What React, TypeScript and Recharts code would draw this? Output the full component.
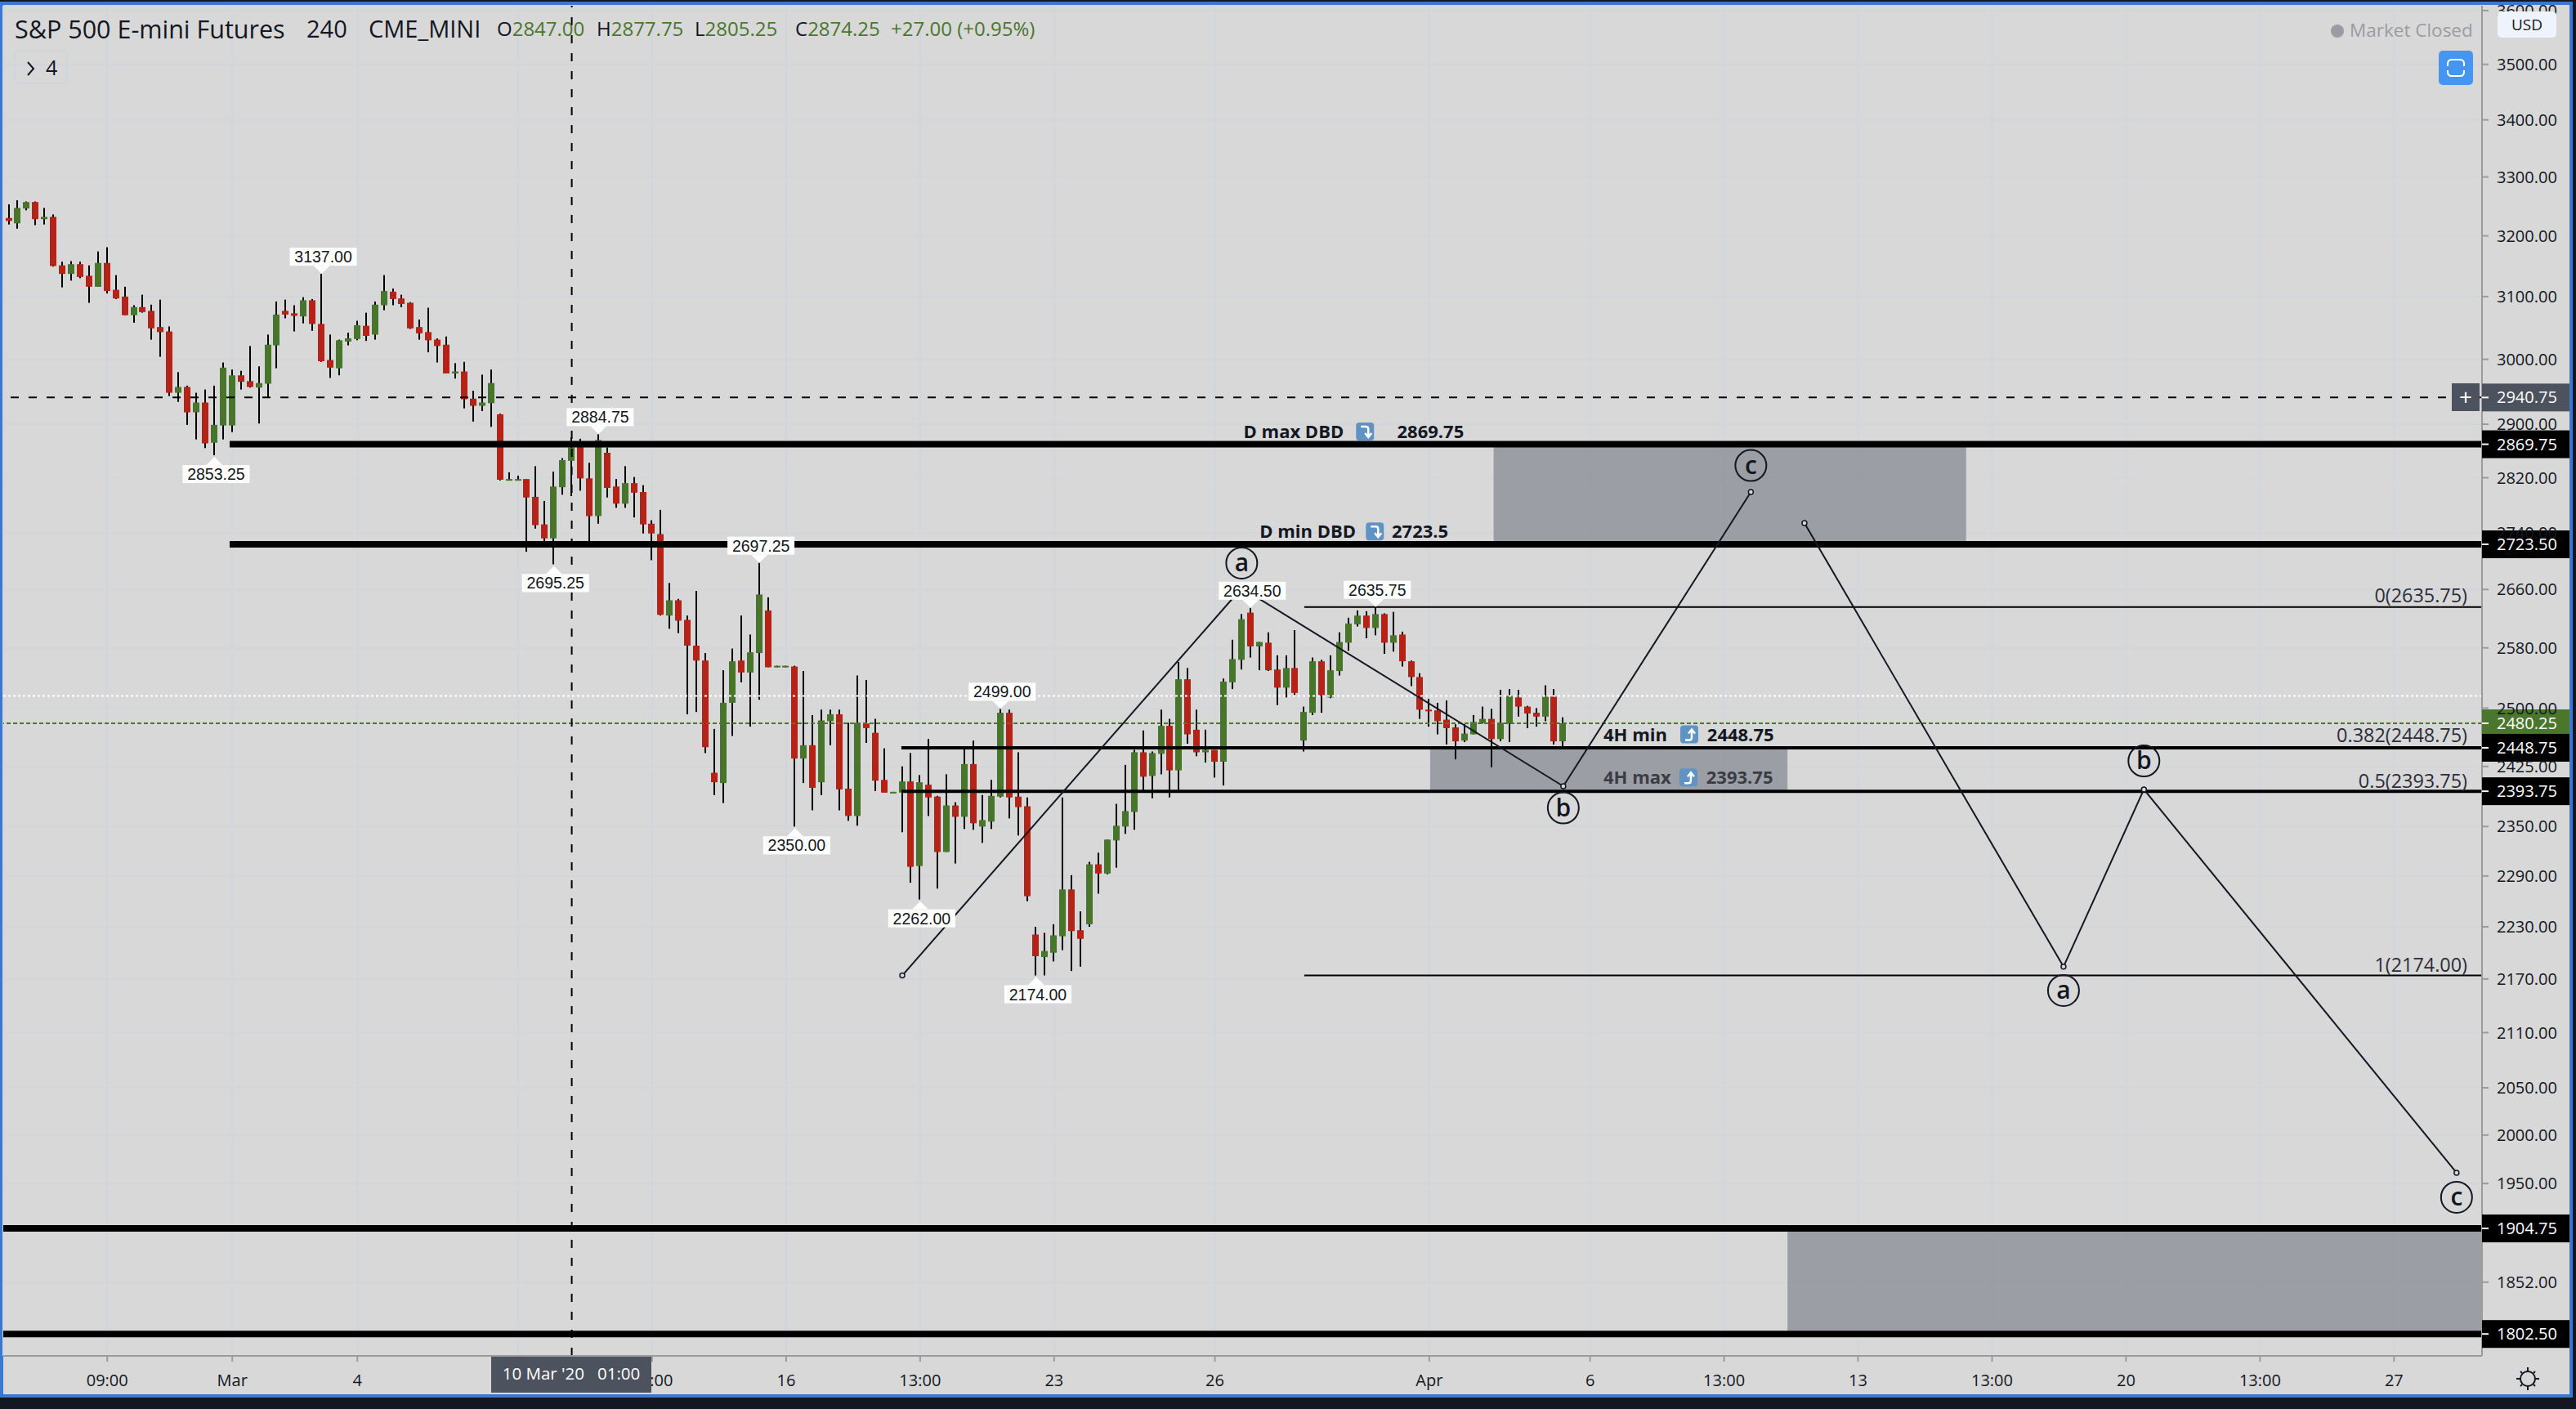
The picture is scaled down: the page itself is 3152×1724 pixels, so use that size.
import {
  ComposedChart, Bar, XAxis, YAxis, CartesianGrid, ReferenceLine, ReferenceArea, ReferenceDot,
} from "recharts";

const opens = [
  3230, 3221, 3246, 3257, 3228, 3232, 3151, 3137, 3153, 3134,
  3116, 3155, 3111, 3100, 3070, 3083, 3077, 3051, 3044, 2948,
  2957, 2918, 2933, 2872, 2898, 2898, 2975, 2966, 2956, 2962,
  3022, 3077, 3073, 3068, 3094, 3056, 2999, 2986, 3028, 3032,
  3053, 3039, 3086, 3108, 3097, 3090, 3051, 3043, 3031, 3023,
  2978, 2981, 2939, 2928, 2932, 2915, 2817, 2817, 2818, 2792,
  2752, 2732, 2806, 2845, 2874, 2819, 2764, 2857, 2807, 2782,
  2812, 2799, 2753, 2738, 2624, 2645, 2618, 2583, 2563, 2417,
  2404, 2507, 2563, 2547, 2573, 2631, 2555, 2555, 2555, 2435,
  2452, 2405, 2483, 2492, 2397, 2363, 2480, 2468, 2408, 2392,
  2392, 2406, 2302, 2402, 2387, 2319, 2376, 2362, 2428, 2350,
  2356, 2387, 2494, 2387, 2375, 2221, 2195, 2200, 2219, 2274,
  2226, 2233, 2304, 2293, 2333, 2350, 2368, 2443, 2413, 2441,
  2477, 2420, 2538, 2472, 2443, 2446, 2431, 2534, 2564, 2628,
  2582, 2587, 2551, 2527, 2553, 2458, 2494, 2562, 2514, 2549,
  2587, 2612, 2624, 2607, 2626, 2587, 2598, 2562, 2541, 2498,
  2497, 2485, 2475, 2458, 2466, 2481, 2486, 2460, 2480, 2514,
  2502, 2494, 2489, 2515, 2457,
];
const highs = [
  3253, 3260, 3258, 3258, 3247, 3236, 3157, 3158, 3157, 3151,
  3174, 3181, 3135, 3116, 3086, 3103, 3087, 3095, 3052, 2980,
  2959, 2948, 2953, 2959, 2995, 2984, 2982, 3021, 2989, 3039,
  3092, 3095, 3086, 3099, 3096, 3137, 3039, 3031, 3042, 3061,
  3074, 3092, 3135, 3113, 3103, 3091, 3063, 3082, 3033, 3036,
  2994, 2996, 2951, 2976, 2984, 2916, 2828, 2823, 2818, 2837,
  2786, 2829, 2849, 2880, 2878, 2842, 2884.75, 2865, 2818, 2837,
  2821, 2809, 2758, 2773, 2669, 2647, 2624, 2658, 2573, 2473,
  2550, 2579, 2624, 2598, 2697.25, 2649, 2556, 2556, 2556, 2549,
  2491, 2498, 2498, 2498, 2481, 2543, 2537, 2486, 2448, 2393,
  2425, 2442, 2414, 2460, 2388, 2415, 2380, 2448, 2458, 2389,
  2408, 2499, 2498, 2443, 2386, 2230, 2223, 2233, 2386, 2291,
  2248, 2307, 2318, 2334, 2378, 2427, 2446, 2471, 2444, 2498,
  2486, 2561, 2553, 2498, 2472, 2446, 2539, 2591, 2626, 2634.5,
  2588, 2601, 2570, 2570, 2604, 2502, 2567, 2564, 2570, 2601,
  2621, 2631, 2630, 2635.75, 2627, 2629, 2602, 2563, 2546, 2512,
  2507, 2510, 2479, 2479, 2491, 2502, 2499, 2524, 2525, 2524,
  2503, 2500, 2530, 2525, 2488,
];
const lows = [
  3219, 3212, 3243, 3218, 3219, 3149, 3115, 3126, 3130, 3090,
  3116, 3105, 3096, 3070, 3058, 3074, 3031, 3004, 2943, 2934,
  2899, 2877, 2864, 2853.25, 2877, 2888, 2953, 2956, 2901, 2941,
  2986, 3065, 3044, 3057, 3045, 2996, 2971, 2975, 3022, 3030,
  3029, 3031, 3078, 3086, 3083, 3048, 3031, 3011, 2995, 2978,
  2970, 2924, 2904, 2920, 2896, 2816, 2817, 2817, 2713, 2746,
  2726, 2695.25, 2795, 2793, 2801, 2727, 2753, 2791, 2776, 2776,
  2762, 2739, 2701, 2624, 2606, 2600, 2492, 2495, 2442, 2389,
  2379, 2464, 2534, 2476, 2511, 2554, 2554, 2554, 2350, 2404,
  2370, 2389, 2452, 2370, 2357, 2351, 2455, 2394, 2392, 2392,
  2343, 2282, 2262, 2363, 2275, 2319, 2305, 2347, 2346, 2330,
  2347, 2386, 2360, 2339, 2260, 2174, 2174, 2190, 2203, 2179,
  2184, 2230, 2269, 2292, 2300, 2341, 2346, 2395, 2385, 2415,
  2386, 2394, 2454, 2438, 2430, 2411, 2401, 2525, 2551, 2567,
  2550, 2549, 2504, 2514, 2517, 2444, 2491, 2494, 2513, 2543,
  2576, 2609, 2593, 2597, 2572, 2575, 2555, 2529, 2486, 2476,
  2466, 2453, 2434, 2456, 2466, 2480, 2424, 2457, 2456, 2489,
  2474, 2476, 2483, 2453, 2448,
];
const closes = [
  3225, 3247, 3257, 3228, 3232, 3150, 3137, 3153, 3132, 3116,
  3155, 3109, 3097, 3070, 3083, 3075, 3049, 3043, 2948, 2957,
  2918, 2933, 2871, 2899, 2987, 2975, 2965, 2957, 2963, 3023,
  3071, 3071, 3069, 3094, 3056, 2997, 2987, 3030, 3033, 3054,
  3037, 3087, 3109, 3096, 3088, 3049, 3041, 3030, 3021, 2978,
  2981, 2938, 2928, 2933, 2963, 2817, 2818, 2818, 2791, 2751,
  2732, 2807, 2846, 2865, 2819, 2764, 2876, 2805, 2782, 2812,
  2798, 2752, 2739, 2625, 2645, 2617, 2583, 2563, 2449.5, 2405,
  2507, 2562, 2547, 2574, 2653, 2554, 2556, 2556, 2435, 2452,
  2398, 2484, 2492, 2396, 2363, 2481, 2474, 2407, 2392, 2393,
  2406, 2301, 2405, 2386, 2319, 2376, 2362, 2428, 2354, 2358,
  2388, 2494, 2386, 2374, 2266, 2196, 2202, 2220, 2274, 2225,
  2216, 2304, 2293, 2334, 2351, 2369, 2443, 2412, 2442, 2477,
  2420, 2538, 2466, 2443, 2446, 2431, 2535, 2565, 2619, 2582,
  2588, 2550, 2527, 2553, 2520, 2495, 2562, 2516, 2550, 2588,
  2613, 2624, 2607, 2626, 2587, 2597, 2562, 2541, 2498, 2497,
  2483, 2474, 2457, 2467, 2482, 2486, 2460, 2481, 2516, 2502,
  2493, 2489, 2515, 2457, 2480.25,
];

const xTicks = [11, 25, 39, 57, 72, 87, 102, 117, 135, 159, 177, 192, 207, 222, 237, 252, 267];
const xTickLabels = ["09:00", "Mar", "4", "9", "13:00", "16", "13:00", "23", "26", "Apr", "6", "13:00", "13", "13:00", "20", "13:00", "27"];
const yTicks = [3600, 3500, 3400, 3300, 3200, 3100, 3000, 2900, 2820, 2740, 2660, 2580, 2500, 2425, 2350, 2290, 2230, 2170, 2110, 2050, 2000, 1950, 1852];

const highLabels = [[35, 3137], [66, 2884.75], [84, 2697.25], [111, 2499], [139, 2634.5], [153, 2635.75]];
const lowLabels = [[23, 2853.25], [61, 2695.25], [88, 2350], [102, 2262], [115, 2174]];
const wavePoints = [[100, 2174], [138, 2662], [174, 2400], [195, 2799]];
const wave2Points = [[201, 2754], [230, 2184], [239, 2396], [274, 1961]];
const waveLetters = [["a", 138, 2697], ["b", 174, 2373], ["c", 195, 2838], ["a", 230, 2157], ["b", 239, 2432], ["c", 274, 1936]];
const zones = [[166.2, 219.1, 2869.75, 2723.5], [159.1, 199.1, 2448.75, 2393.75], [199.1, 276.85, 1904.75, 1802.5]];
const fibLabels = [["0(2635.75)", 2651], ["0.382(2448.75)", 2464], ["0.5(2393.75)", 2406], ["1(2174.00)", 2186]];
const priceTags = [
  [2940.75, "#4c525e"], [2869.75, "#000"], [2723.5, "#000"], [2480.25, "#4a762e"],
  [2448.75, "#000"], [2393.75, "#000"], [1904.75, "#000"], [1802.5, "#000"],
];
const zoneNotes = [
  ["D max DBD", "down", "2869.75", 138.2, 2889, 150.8, 155.4, "#131722"],
  ["D min DBD", "down", "2723.5", 140, 2742, 151.9, 154.8, "#131722"],
  ["4H min", "up", "2448.75", 178.5, 2466, 187.1, 190.1, "#131722"],
  ["4H max", "up", "2393.75", 178.5, 2411, 187, 190, "#3a3d45"],
];

const rows = opens.map((open, i) => ({
  i, open, high: highs[i], low: lows[i], close: closes[i], range: [lows[i], highs[i]],
}));

const GREEN = "#47752c";
const RED = "#b42318";
const GRID = "#d2d5dc";
const AXIS = "#9b9b9b";
const RIGHT_EDGE = 276.85;
const SANS = "'Open Sans', sans-serif";
const ARIAL = "'Liberation Sans', Arial, sans-serif";

// body edges come from the wick rect the scale gave us (log axis, so ratio of logs)
function Candle(props: any) {
  const { x, y, width, height, payload } = props;
  const { open, close, high, low } = payload;
  const span = Math.log(high / low);
  const at = (v: number) => y + (height * Math.log(high / v)) / span;
  const top = at(Math.max(open, close));
  const bottom = at(Math.min(open, close));
  const cx = Math.round(x + width / 2);
  const color = close >= open ? GREEN : RED;
  return (
    <g>
      <rect x={cx - 1} y={y} width={2} height={height} fill="#000" />
      <rect x={cx - 4} y={top} width={8} height={Math.max(bottom - top, 2)} fill={color} />
    </g>
  );
}

function Callout({ cx, cy, text, up }: any) {
  const tipY = up ? cy : cy + 2;
  const dir = up ? -1 : 1;
  const boxY = up ? tipY - 32 : tipY + 10;
  return (
    <g>
      <polygon points={`${cx},${tipY} ${cx - 10},${tipY + dir * 10} ${cx + 10},${tipY + dir * 10}`} fill="#fff" />
      <rect x={cx - 39} y={boxY} width={82} height={22} fill="#fff" />
      <text x={cx + 2} y={boxY + 18} textAnchor="middle" fontFamily={ARIAL} fontSize={19.5} fill="#131722">{text}</text>
    </g>
  );
}

function PriceTag({ cx, cy, color, value }: any) {
  return (
    <g>
      <rect x={cx} y={cy - 17} width={107} height={34} fill={color} />
      <line x1={cx} x2={cx + 8} y1={cy} y2={cy} stroke="#fff" strokeWidth={2} />
      <text x={cx + 18} y={cy + 7} fontFamily={SANS} fontSize={20} fill="#fff">{value.toFixed(2)}</text>
    </g>
  );
}

function WaveLetter({ cx, cy, letter }: any) {
  return (
    <g>
      <circle cx={cx} cy={cy} r={19} fill="none" stroke="#131722" strokeWidth={2} />
      <text x={cx} y={cy + 10} textAnchor="middle" fontFamily={SANS} fontWeight={600} fontSize={30} fill="#131722">{letter}</text>
    </g>
  );
}

function NoteText({ cx, cy, text, color }: any) {
  return <text x={cx} y={cy + 8} fontFamily={SANS} fontWeight={700} fontSize={22} fill={color}>{text}</text>;
}

function NoteIcon({ cx, cy, dir }: any) {
  const arrow = dir === "down"
    ? `M${cx + 6} ${cy - 6} h6 q3 0 3 3 v9 m-4 -4 l4 5 l4 -5`
    : `M${cx + 6} ${cy + 7} h5 q3 0 3 -3 v-9 m-4 4 l4 -5 l4 5`;
  return (
    <g>
      <rect x={cx} y={cy - 11} width={22} height={22} rx={4} fill="#5f93c4" />
      <path d={arrow} fill="none" stroke="#fff" strokeWidth={2.5} />
    </g>
  );
}

function segment(a: number[], b: number[]) {
  return [{ x: a[0], y: a[1] }, { x: b[0], y: b[1] }] as any;
}

const overlay = (style: any) => ({ position: "absolute", ...style });

function Legend() {
  const val = { color: "#4a762e" };
  return (
    <div style={overlay({ left: 18, top: 17, height: 36, fontFamily: SANS, fontSize: 29, lineHeight: "36px", color: "#131722", whiteSpace: "nowrap" })}>
      <span style={overlay({ left: 0, fontSize: 30.5 })}>S&amp;P 500 E-mini Futures</span>
      <span style={overlay({ left: 357 })}>240</span>
      <span style={overlay({ left: 433 })}>CME_MINI</span>
      <span style={overlay({ left: 590, fontSize: 24 })}>O<span style={val}>2847.00</span></span>
      <span style={overlay({ left: 712, fontSize: 24 })}>H<span style={val}>2877.75</span></span>
      <span style={overlay({ left: 832, fontSize: 24 })}>L<span style={val}>2805.25</span></span>
      <span style={overlay({ left: 955, fontSize: 24 })}>C<span style={val}>2874.25</span></span>
      <span style={overlay({ left: 1072, fontSize: 24, ...val })}>+27.00 (+0.95%)</span>
    </div>
  );
}

export default function App() {
  return (
    <div style={{ position: "absolute", left: 0, top: 0, width: 3152, height: 1724, background: "#131722", overflow: "hidden" }}>
      <div style={overlay({ left: 0, top: 2, width: 3148, height: 1708, boxSizing: "border-box", border: "4px solid #3a78d2", background: "#d8d8d8" })} />
      <div style={overlay({ left: 0, top: 0 })}>
        <ComposedChart width={3152} height={1724} data={rows} margin={{ top: 7, right: 8, left: 4, bottom: 17 }}>
          <CartesianGrid stroke={GRID} strokeWidth={2} />
          <XAxis
            dataKey="i" type="number" domain={[-0.64, RIGHT_EDGE]} allowDataOverflow ticks={xTicks} interval={0} height={48}
            tickFormatter={(v) => xTickLabels[xTicks.indexOf(v)]} stroke={AXIS} strokeWidth={2} tickSize={7} tickMargin={16}
            tick={{ fill: "#131722", fontFamily: SANS, fontSize: 20 }}
          />
          <YAxis
            orientation="right" type="number" scale="log" domain={[1782, 3609]} allowDataOverflow ticks={yTicks} interval={0} width={107}
            tickFormatter={(v) => v.toFixed(2)} stroke={AXIS} strokeWidth={2} tickSize={8} tickMargin={10}
            tick={{ fill: "#131722", fontFamily: SANS, fontSize: 20 }}
          />

          {zones.map((z, n) => (
            <ReferenceArea key={n} x1={z[0]} x2={z[1]} y1={z[2]} y2={z[3]} fill="#787b86" fillOpacity={0.63} stroke="none" ifOverflow="visible" />
          ))}

          <Bar dataKey="range" barSize={8} isAnimationActive={false} shape={Candle} />

          <ReferenceLine y={2516} stroke="#fff" strokeWidth={2} strokeDasharray="3 3" />
          <ReferenceLine y={2480.25} stroke="#4a762e" strokeWidth={2} strokeDasharray="5 3" />
          <ReferenceLine y={2940.75} stroke="#000" strokeWidth={2} strokeDasharray="10 12" />
          <ReferenceLine x={63} stroke="#000" strokeWidth={2} strokeDasharray="10 12" />

          <ReferenceLine segment={segment([24.7, 2869.75], [RIGHT_EDGE, 2869.75])} stroke="#000" strokeWidth={8} />
          <ReferenceLine segment={segment([24.7, 2723.5], [RIGHT_EDGE, 2723.5])} stroke="#000" strokeWidth={8} />
          <ReferenceLine segment={segment([99.9, 2448.75], [RIGHT_EDGE, 2448.75])} stroke="#000" strokeWidth={4} />
          <ReferenceLine segment={segment([99.9, 2393.75], [RIGHT_EDGE, 2393.75])} stroke="#000" strokeWidth={4} />
          <ReferenceLine segment={segment([145, 2635.75], [RIGHT_EDGE, 2635.75])} stroke="#000" strokeWidth={2} />
          <ReferenceLine segment={segment([145, 2174], [RIGHT_EDGE, 2174])} stroke="#000" strokeWidth={2} />
          <ReferenceLine y={1904.75} stroke="#000" strokeWidth={8} />
          <ReferenceLine y={1802.5} stroke="#000" strokeWidth={8} />

          {[wavePoints, wave2Points].map((pts) =>
            pts.slice(1).map((p, n) => (
              <ReferenceLine key={`${p[0]}`} segment={segment(pts[n], p)} stroke="#131722" strokeWidth={2} />
            ))
          )}
          {[wavePoints[0], wavePoints[2], wavePoints[3], wave2Points[0], wave2Points[1], wave2Points[2], wave2Points[3]].map((p) => (
            <ReferenceDot key={p[0]} x={p[0]} y={p[1]} r={3} fill="#d8d8d8" stroke="#131722" strokeWidth={1.5} ifOverflow="visible" />
          ))}
          {waveLetters.map((w, n) => (
            <ReferenceDot key={n} x={w[1] as number} y={w[2] as number} ifOverflow="visible"
              shape={(p: any) => <WaveLetter cx={p.cx} cy={p.cy} letter={w[0]} />} />
          ))}

          {highLabels.map((l) => (
            <ReferenceDot key={l[0]} x={l[0]} y={l[1]} ifOverflow="visible"
              shape={(p: any) => <Callout cx={p.cx} cy={p.cy} up text={l[1].toFixed(2)} />} />
          ))}
          {lowLabels.map((l) => (
            <ReferenceDot key={l[0]} x={l[0]} y={l[1]} ifOverflow="visible"
              shape={(p: any) => <Callout cx={p.cx} cy={p.cy} text={l[1].toFixed(2)} />} />
          ))}

          {zoneNotes.map((n, k) => (
            <ReferenceDot key={`t${k}`} x={n[3] as number} y={n[4] as number} ifOverflow="visible"
              shape={(p: any) => <NoteText cx={p.cx} cy={p.cy} text={n[0]} color={n[7]} />} />
          ))}
          {zoneNotes.map((n, k) => (
            <ReferenceDot key={`i${k}`} x={n[5] as number} y={n[4] as number} ifOverflow="visible"
              shape={(p: any) => <NoteIcon cx={p.cx} cy={p.cy} dir={n[1]} />} />
          ))}
          {zoneNotes.map((n, k) => (
            <ReferenceDot key={`v${k}`} x={n[6] as number} y={n[4] as number} ifOverflow="visible"
              shape={(p: any) => <NoteText cx={p.cx} cy={p.cy} text={n[2]} color={n[7]} />} />
          ))}

          {fibLabels.map((f) => (
            <ReferenceDot key={f[0]} x={275.2} y={f[1] as number} ifOverflow="visible"
              shape={(p: any) => <text x={p.cx} y={p.cy + 8} textAnchor="end" fontFamily={SANS} fontSize={23.4} fill="#2a2e39">{f[0]}</text>} />
          ))}

          {priceTags.map((t) => (
            <ReferenceDot key={t[0]} x={RIGHT_EDGE} y={t[0] as number} ifOverflow="visible"
              shape={(p: any) => <PriceTag cx={p.cx} cy={p.cy} color={t[1]} value={t[0]} />} />
          ))}
        </ComposedChart>
      </div>

      <Legend />
      <div style={overlay({ left: 17, top: 62, width: 66, height: 41, boxSizing: "border-box", border: "2px solid #d2d5dc", borderRadius: 4 })}>
        <svg style={overlay({ left: 12, top: 11 })} width={14} height={18}>
          <path d="M3 1 L10 9 L3 17" fill="none" stroke="#131722" strokeWidth={2} />
        </svg>
        <span style={overlay({ left: 37, top: 0, fontFamily: SANS, fontSize: 25, lineHeight: "37px", color: "#131722" })}>4</span>
      </div>
      <div style={overlay({ left: 2852, top: 30, width: 16, height: 16, borderRadius: 8, background: "#9a9ca3" })} />
      <div style={overlay({ left: 2875, top: 19, fontFamily: SANS, fontSize: 22.5, lineHeight: "36px", color: "#9a9ca3", whiteSpace: "nowrap" })}>Market Closed</div>
      <div style={overlay({ left: 3056, top: 14, width: 72, height: 32, borderRadius: 5, background: "#eff3fb", fontFamily: SANS, fontSize: 19, lineHeight: "32px", textAlign: "center", color: "#131722" })}>USD</div>
      <svg style={overlay({ left: 2984, top: 62 })} width={42} height={42}>
        <rect width={42} height={42} rx={5} fill="#4596f0" />
        <path d="M11 19 V16 Q11 11 16 11 H26 Q31 11 31 16 V19 M11 24 V26 Q11 31 16 31 H26 Q31 31 31 26 V24" fill="none" stroke="#fff" strokeWidth={2} />
      </svg>
      <div style={overlay({ left: 3000, top: 469, width: 34, height: 34, background: "#4c525e", color: "#fff", fontFamily: SANS, fontSize: 28, lineHeight: "32px", textAlign: "center" })}>+</div>
      <div style={overlay({ left: 601, top: 1660, width: 196, height: 44, background: "#4c525e", color: "#fff", fontFamily: SANS, fontSize: 20.5, lineHeight: "40px", textAlign: "center", whiteSpace: "pre" })}>10 Mar '20   01:00</div>
      <svg style={overlay({ left: 3078, top: 1672 })} width={30} height={30}>
        <circle cx={15} cy={15} r={9} fill="none" stroke="#131722" strokeWidth={2} />
        {[[15, 1, 15, 6], [15, 24, 15, 29], [1, 15, 6, 15], [24, 15, 29, 15], [6, 6, 8, 8], [24, 6, 22, 8], [6, 24, 8, 22], [24, 24, 22, 22]].map((l, k) => (
          <line key={k} x1={l[0]} y1={l[1]} x2={l[2]} y2={l[3]} stroke="#131722" strokeWidth={2} />
        ))}
      </svg>
    </div>
  );
}
